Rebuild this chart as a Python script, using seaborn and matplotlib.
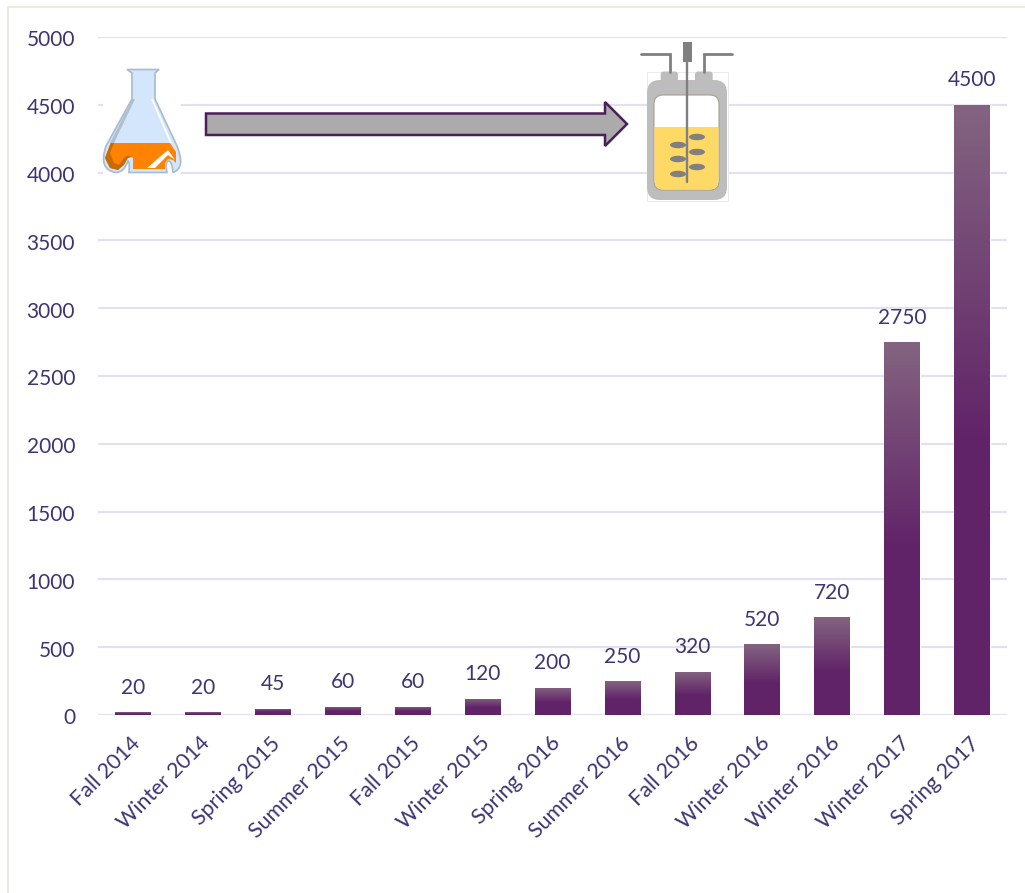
import numpy as np
import pandas as pd
import matplotlib
matplotlib.use('Agg')
import matplotlib.pyplot as plt
import seaborn as sns
from matplotlib.colors import LinearSegmentedColormap
from matplotlib.patches import Polygon, Rectangle, FancyBboxPatch, Ellipse, PathPatch
from matplotlib.path import Path
from matplotlib.transforms import ScaledTranslation

# data
seasons = ['Fall 2014', 'Winter 2014', 'Spring 2015', 'Summer 2015', 'Fall 2015',
           'Winter 2015', 'Spring 2016', 'Summer 2016', 'Fall 2016', 'Winter 2016',
           'Winter 2016 ', 'Winter 2017', 'Spring 2017']
volumes = [20, 20, 45, 60, 60, 120, 200, 250, 320, 520, 720, 2750, 4500]
y_ticks = [0, 500, 1000, 1500, 2000, 2500, 3000, 3500, 4000, 4500, 5000]

TEXT = '#3F3472'
GRID = '#E4E0F2'

sns.set_theme(style='white')
plt.rcParams['font.family'] = ['Lato', 'DejaVu Sans']

df = pd.DataFrame({'season': seasons, 'volume': volumes})

fig = plt.figure(figsize=(10.25, 8.93), dpi=100)
ax = fig.add_axes([98 / 1025, 1 - 715 / 893, 909 / 1025, 678 / 893])

sns.barplot(data=df, x='season', y='volume', ax=ax, width=0.51, color='#5F2167',
            saturation=1, zorder=3)
ax.set_xlim(-0.5, 12.5)
ax.set_ylim(0, 5000)
ax.set_xlabel('')
ax.set_ylabel('')
ax.set_yticks(y_ticks)

# grid
ax.grid(axis='y', color=GRID, lw=1.6, zorder=0)
ax.set_axisbelow(True)
for s in ax.spines.values():
    s.set_visible(False)
ax.tick_params(axis='y', length=0, pad=16.5, labelsize=15, labelcolor=TEXT)
ax.tick_params(axis='x', length=0, pad=13, labelsize=15.5, labelcolor=TEXT)
ax.set_xticks(range(len(seasons)))
ax.set_xticklabels([s.strip() for s in seasons], rotation=45, ha='right', rotation_mode='anchor')

# small nudges so the labels land where they do in the original
for lab in ax.get_xticklabels():
    lab.set_transform(lab.get_transform() + ScaledTranslation(-2 / 72, 0, fig.dpi_scale_trans))
for lab in ax.get_yticklabels():
    lab.set_transform(lab.get_transform() + ScaledTranslation(0, -1 / 72, fig.dpi_scale_trans))

# gradient fill, top of each bar is paler
cmap = LinearSegmentedColormap.from_list('bar', [(0, '#612368'), (0.45, '#612368'), (1, '#836480')])
grad = np.linspace(0, 1, 256).reshape(-1, 1)
for bar in ax.patches:
    x0, w, h = bar.get_x(), bar.get_width(), bar.get_height()
    im = ax.imshow(grad, origin='lower', extent=[x0, x0 + w, 0, h], aspect='auto',
                   cmap=cmap, zorder=4, interpolation='bilinear')
    im.set_clip_path(bar)
ax.set_xlim(-0.5, 12.5)
ax.set_ylim(0, 5000)

for cont in ax.containers:
    ax.bar_label(cont, labels=[str(v) for v in volumes], padding=10.5, fontsize=15, color=TEXT, zorder=5)

# overlay in pixel coords for the picture + arrow
ov = fig.add_axes([0, 0, 1, 1], zorder=10)
ov.set_xlim(0, 1025)
ov.set_ylim(893, 0)
ov.axis('off')

# frame of the chart area
ov.plot([7.5, 7.5], [7, 893], color='#E6E6DC', lw=1.1)
ov.plot([7.5, 1025], [7, 7], color='#E6E6DC', lw=1.1)

# arrow
ov.add_patch(Polygon([(206, 113.5), (605, 113.5), (605, 102), (627, 124), (605, 146),
                      (605, 135), (206, 135)], closed=True, fc='#ABABAB', ec='#4B1F5A', lw=1.8))

# flask
ov.add_patch(Rectangle((103, 69), 78, 105, fc='white', ec='none'))
flask = [(Path.MOVETO, (127, 69.5)), (Path.LINETO, (159, 69.5)), (Path.LINETO, (155, 73)),
         (Path.LINETO, (155, 99)), (Path.LINETO, (177, 146)),
         (Path.CURVE3, (186, 168)), (Path.CURVE3, (173, 172.5)),
         (Path.CURVE3, (172, 160)), (Path.CURVE3, (168, 161)),
         (Path.CURVE3, (165, 163)), (Path.CURVE3, (167, 172.5)),
         (Path.LINETO, (129, 172.5)), (Path.CURVE3, (130, 161)), (Path.CURVE3, (128, 161)),
         (Path.CURVE3, (124, 172.5)), (Path.CURVE3, (116, 172.5)),
         (Path.CURVE3, (98, 170)), (Path.CURVE3, (106, 146)),
         (Path.LINETO, (132, 99)), (Path.LINETO, (132, 73)), (Path.CLOSEPOLY, (127, 69.5))]
codes, verts = zip(*flask)
ov.add_patch(PathPatch(Path(verts, codes), fc='#D3E6FB', ec='#A9BBCF', lw=1.2))
ov.add_patch(Polygon([(132.5, 99), (135, 99), (114, 143), (110, 143)], closed=True, fc='#AEBFCF', ec='none'))
ov.add_patch(Polygon([(151, 99), (153, 99), (172, 143), (170, 143)], closed=True, fc='white', ec='none'))
liquid = [(110.7, 143), (170, 143), (176, 152), (176, 163), (173, 160), (168, 159), (165, 163),
          (165, 169), (133, 169), (133, 158), (128, 155), (123, 162), (118, 170), (110, 168), (105, 158)]
ov.add_patch(Polygon(liquid, closed=True, fc='#FF8300', ec='none'))
ov.add_patch(Polygon([(110.7, 143), (114, 143), (110, 153), (114, 163), (119, 165), (124, 158), (128, 155), (132, 157),
                      (128, 158), (124, 165), (118, 170), (110, 168), (105, 158)],
                     closed=True, fc='#C66B05', ec='none'))
ov.add_patch(Polygon([(147, 168), (168, 150), (175, 160), (168, 155), (155, 168)], closed=True, fc='white', ec='none'))

# bioreactor
ov.add_patch(Rectangle((646.5, 71.5), 81, 129, fc='white', ec='#E6E6E6', lw=0.6))
for x0, x1 in [(660.7, 678), (695, 712.7)]:
    ov.add_patch(FancyBboxPatch((x0 + 1, 72.5), x1 - x0 - 2, 12, boxstyle='round,pad=0,rounding_size=2',
                                fc='#BDBDBD', ec='#BDBDBD', lw=1.4))
ov.add_patch(FancyBboxPatch((647, 80), 80, 120, boxstyle='round,pad=0,rounding_size=13', fc='#BDBDBD', ec='none'))
ov.add_patch(FancyBboxPatch((654, 95), 65, 95, boxstyle='round,pad=0,rounding_size=9', fc='white', ec='#A8A08C', lw=0.8))
yellow = FancyBboxPatch((654.5, 95.5), 64, 94, boxstyle='round,pad=0,rounding_size=9', fc='#FFD966', ec='none')
ov.add_patch(yellow)
yellow.set_clip_path(Rectangle((650, 127), 75, 67, transform=ov.transData))
ov.plot([641, 670, 670], [54, 54, 72], color='#808080', lw=2, solid_joinstyle='miter')
ov.plot([732, 703.5, 703.5], [54, 54, 72], color='#808080', lw=2, solid_joinstyle='miter')
ov.add_patch(Rectangle((682.7, 42), 9.3, 20, fc='#808080', ec='none'))
ov.plot([687, 687], [60, 182], color='#808080', lw=1.7)
for cx, cy in [(678, 145), (678, 159), (678, 174), (697, 137), (697, 152), (697, 167)]:
    ov.add_patch(Ellipse((cx, cy), 16, 6.5, fc='#808080', ec='none'))

fig.savefig('out.png', dpi=100, facecolor='white')
